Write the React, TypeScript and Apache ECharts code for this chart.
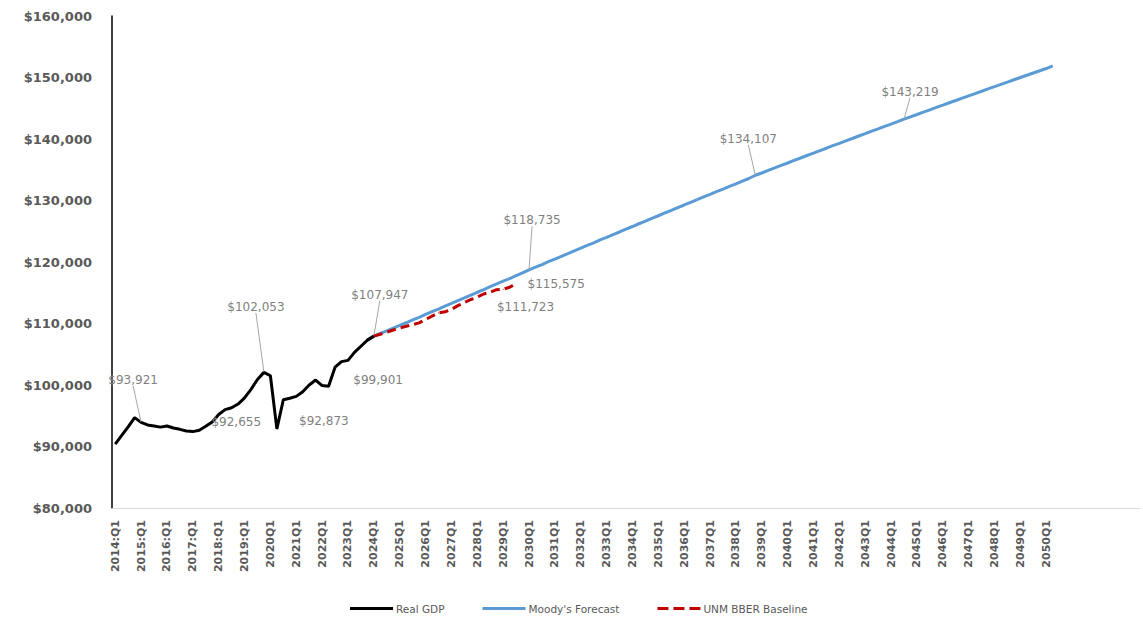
import React, { useEffect, useRef } from 'react';
import * as echarts from 'echarts';

// Tick labels shown on the category axis (one per year, first quarter)
const tickLabels = [
  '2014:Q1', '2015:Q1', '2016:Q1', '2017:Q1', '2018:Q1', '2019:Q1',
  '2020Q1', '2021Q1', '2022Q1', '2023Q1', '2024Q1', '2025Q1', '2026Q1',
  '2027Q1', '2028Q1', '2029Q1', '2030Q1', '2031Q1', '2032Q1', '2033Q1',
  '2034Q1', '2035Q1', '2036Q1', '2037Q1', '2038Q1', '2039Q1', '2040Q1',
  '2041Q1', '2042Q1', '2043Q1', '2044Q1', '2045Q1', '2046Q1', '2047Q1',
  '2048Q1', '2049Q1', '2050Q1',
];

// Quarterly categories 2014Q1 .. 2053Q3 (axis runs past the data, as in the source)
const firstYear = 2014;
const categoryCount = 159;
const categories: string[] = [];
for (let k = 0; k < categoryCount; k++) {
  categories.push(`${firstYear + Math.floor(k / 4)}Q${(k % 4) + 1}`);
}

// Real GDP, 2014Q1 .. 2024Q1
const realGdp = [
  90400, 91800, 93200, 94700, 93921, 93500, 93330, 93150,
  93330, 93000, 92790, 92520, 92420, 92655, 93300, 94000,
  95200, 96000, 96300, 96900, 97900, 99300, 100900, 102053,
  101500, 92873, 97600, 97850, 98150, 98900, 100000, 100810,
  99901, 99800, 102900, 103800, 104000, 105300, 106300, 107300,
  107947,
];

// Moody's Forecast, 2023Q4 .. 2050Q2
const moodysStart = 39;
const moodys = [
  107300,
  107947, 108380, 108790, 109260, 109700, 110120, 110590, 111010,
  111480, 111930, 112350, 112820, 113260, 113720, 114150, 114620,
  115080, 115520, 115990, 116430, 116880, 117310, 117770, 118220,
  118735, 119150, 119590, 120060, 120480, 120930, 121360, 121820,
  122250, 122700, 123120, 123590, 124010, 124460, 124880, 125350,
  125770, 126220, 126640, 127100, 127520, 127970, 128390, 128840,
  129270, 129710, 130130, 130580, 130990, 131440, 131850, 132300,
  132720, 133160, 133580, 134107, 134470, 134900, 135300, 135720,
  136100, 136520, 136910, 137320, 137700, 138110, 138500, 138910,
  139290, 139700, 140080, 140490, 140870, 141270, 141650, 142050,
  142430, 142820, 143219, 143600, 143980, 144370, 144740, 145130,
  145500, 145890, 146260, 146640, 147010, 147390, 147760, 148140,
  148510, 148890, 149250, 149630, 150000, 150370, 150730, 151100,
  151460, 151900,
];

// UNM BBER Baseline, 2024Q1 .. 2029Q3
const bberStart = 40;
const bber = [
  107947, 108250, 108600, 108950, 109250, 109550, 109800, 110100,
  110650, 111200, 111723, 111900, 112300, 112900, 113400, 113900,
  114300, 114800, 115100, 115500, 115575, 115900, 116500,
];

// Which points carry a data label: [dx, dy, leader line]
const realLabels: Record<number, [number, number, boolean]> = {
  4: [-8, -36, true],
  13: [37, -2, false],
  23: [-8, -59, true],
  25: [47, -1, false],
  32: [56, 1, false],
  40: [6, -35, true],
};
const moodysLabels: Record<number, [number, number, boolean]> = {
  64: [3, -43, true],
  99: [-7, -30, true],
  122: [6, -21, true],
};
const bberLabels: Record<number, [number, number, boolean]> = {
  50: [87, 1, false],
  60: [53, 1, false],
};

const money = (v: number) => '$' + Math.round(v).toLocaleString('en-US');

function buildData(values: number[], start: number, labels: Record<number, [number, number, boolean]>) {
  const out: any[] = [];
  for (let k = 0; k < categoryCount; k++) {
    const j = k - start;
    if (j < 0 || j >= values.length) {
      out.push(null);
      continue;
    }
    const spec = labels[k];
    if (spec) {
      out.push({
        value: values[j],
        symbol: 'circle',
        symbolSize: 1,
        label: { show: true },
        labelLine: { show: spec[2] },
      });
    } else {
      out.push(values[j]);
    }
  }
  return out;
}

const labelStyle = {
  show: false,
  position: 'top',
  distance: 0,
  fontFamily: 'DejaVu Sans',
  fontSize: 12,
  color: '#7f7f7f',
  formatter: (p: any) => money(p.value),
};

const labelLineStyle = {
  show: false,
  lineStyle: { color: '#a6a6a6', width: 1 },
};

function layoutFor(labels: Record<number, [number, number, boolean]>) {
  return (params: any) => {
    const spec = labels[params.dataIndex];
    return spec ? { dx: spec[0], dy: spec[1] } : {};
  };
}

const solidIcon = 'path://M0,0H43V3H0Z';
const dashIcon = 'path://M0,0H11V3H0Z M16,0H27V3H16Z M32,0H43V3H32Z';

export default function App() {
  const ref = useRef<HTMLDivElement>(null);

  useEffect(() => {
    if (!ref.current) return;
    const chart = echarts.init(ref.current, undefined, { renderer: 'svg' });
    const option: any = {
      animation: false,
      backgroundColor: '#ffffff',
      grid: { left: 112, right: 3, top: 16, bottom: 109 },
      legend: {
        left: 345,
        top: 598,
        itemWidth: 43,
        itemHeight: 3,
        itemGap: 38,
        textStyle: { fontFamily: 'DejaVu Sans', fontSize: 10.5, color: '#595959', padding: [0, 0, 0, -2] },
        data: [
          { name: 'Real GDP', icon: solidIcon },
          { name: "Moody's Forecast", icon: solidIcon },
          { name: 'UNM BBER Baseline', icon: dashIcon },
        ],
      },
      xAxis: {
        type: 'category',
        data: categories,
        boundaryGap: true,
        axisLine: { show: true, lineStyle: { color: '#d9d9d9', width: 1 } },
        axisTick: { show: false },
        splitLine: { show: false },
        axisLabel: {
          rotate: 90,
          margin: 12,
          fontFamily: 'DejaVu Sans',
          fontWeight: 'bold',
          fontSize: 11,
          color: '#595959',
          interval: (index: number) => index % 4 === 0 && index / 4 < tickLabels.length,
          formatter: (_v: string, index: number) => tickLabels[index / 4] ?? '',
        },
      },
      yAxis: {
        type: 'value',
        min: 80000,
        max: 160000,
        interval: 10000,
        axisLine: { show: true, lineStyle: { color: '#000000', width: 1.5 } },
        axisTick: { show: false },
        splitLine: { show: false },
        axisLabel: {
          margin: 20,
          fontFamily: 'DejaVu Sans',
          fontWeight: 'bold',
          fontSize: 13,
          color: '#595959',
          formatter: (v: number) => money(v),
        },
      },
      series: [
        {
          name: 'Real GDP',
          type: 'line',
          data: buildData(realGdp, 0, realLabels),
          symbol: 'none',
          showSymbol: true,
          showAllSymbol: true,
          lineStyle: { color: '#000000', width: 3 },
          itemStyle: { color: '#000000' },
          label: labelStyle,
          labelLine: labelLineStyle,
          labelLayout: layoutFor(realLabels),
          z: 3,
        },
        {
          name: "Moody's Forecast",
          type: 'line',
          data: buildData(moodys, moodysStart, moodysLabels),
          symbol: 'none',
          showSymbol: true,
          showAllSymbol: true,
          lineStyle: { color: '#5b9bd5', width: 3 },
          itemStyle: { color: '#5b9bd5' },
          label: labelStyle,
          labelLine: labelLineStyle,
          labelLayout: layoutFor(moodysLabels),
          z: 2,
        },
        {
          name: 'UNM BBER Baseline',
          type: 'line',
          data: buildData(bber, bberStart, bberLabels),
          symbol: 'none',
          showSymbol: true,
          showAllSymbol: true,
          lineStyle: { color: '#c00000', width: 3, type: [9, 5] },
          itemStyle: { color: '#c00000' },
          label: labelStyle,
          labelLine: labelLineStyle,
          labelLayout: layoutFor(bberLabels),
          z: 4,
        },
      ],
    };
    chart.setOption(option);
    return () => chart.dispose();
  }, []);

  return (
    <div
      ref={ref}
      style={{ position: 'fixed', left: 0, top: 0, width: 1143, height: 617, background: '#fff' }}
    />
  );
}
